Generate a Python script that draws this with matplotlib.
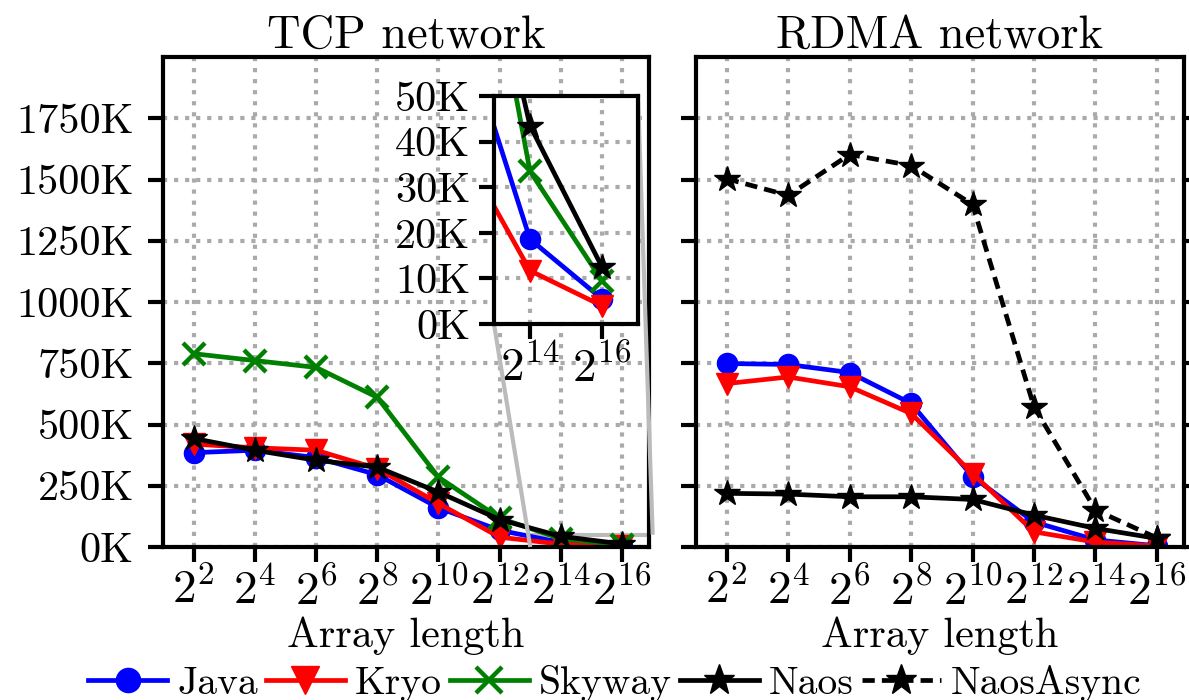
import matplotlib
matplotlib.use('Agg')
import matplotlib.pyplot as plt
from matplotlib.ticker import FuncFormatter, FixedLocator, NullLocator
from mpl_toolkits.axes_grid1.inset_locator import mark_inset

plt.rcParams['font.family'] = 'cmr10'
plt.rcParams['mathtext.fontset'] = 'cm'
plt.rcParams['axes.unicode_minus'] = False
plt.rcParams['axes.formatter.use_mathtext'] = True

# ---------------- data (throughput in K ops/s) ----------------
array_lengths = [4, 16, 64, 256, 1024, 4096, 16384, 65536]
xtick_labels = [r'$2^{2}$', r'$2^{4}$', r'$2^{6}$', r'$2^{8}$',
                r'$2^{10}$', r'$2^{12}$', r'$2^{14}$', r'$2^{16}$']
inset_ticks = [16384, 65536]
inset_tick_labels = [r'$2^{14}$', r'$2^{16}$']
y_ticks = [0, 250, 500, 750, 1000, 1250, 1500, 1750]
inset_y_ticks = [0, 10, 20, 30, 40, 50]

tcp_java = [385, 395, 365, 295, 160, 68, 18.6, 5.5]
tcp_kryo = [420, 405, 395, 320, 178, 40, 11.7, 4.0]
tcp_skyway = [789, 761, 733, 611, 285, 118, 33.5, 9.5]
tcp_naos = [443, 395, 354, 326, 224, 112, 43.5, 12.5]

rdma_java = [749, 745, 712, 586, 287, 102, 29, 5]
rdma_kryo = [667, 694, 654, 545, 300, 62, 20, 4]
rdma_naos = [219, 216, 205, 205, 194, 130, 76, 35]
rdma_naosasync = [1503, 1435, 1602, 1557, 1398, 572, 151, 37]

series_labels = ['Java', 'Kryo', 'Skyway', 'Naos', 'NaosAsync']

# ---------------- styles ----------------
LW = 3.4
st_java = dict(color='#0000ff', marker='o', ms=14.5, lw=LW)
st_kryo = dict(color='#ff0000', marker='v', ms=16.5, lw=LW)
st_sky = dict(color='#008000', marker='x', ms=16, mew=3.2, lw=LW)
st_naos = dict(color='black', marker='*', ms=19, lw=LW)
st_async = dict(color='black', marker='*', ms=19, lw=LW, ls=(0, (2.6, 1.5)))

GRID = dict(color='#aaaaaa', ls=':', lw=3.0)

fig = plt.figure(figsize=(11.89, 7.0), dpi=100)
ax1 = fig.add_axes([163/1189, 153/700, 486/1189, 490/700])
ax2 = fig.add_axes([696/1189, 153/700, 488/1189, 490/700], sharey=ax1)


def yfmt(v, pos):
    return f'{v:.0f}K'


def style_axes(ax):
    ax.set_xscale('log', base=2)
    ax.set_xlim(2 ** 1.0, 2 ** 16.88)
    ax.set_ylim(0, 2000)
    ax.xaxis.set_major_locator(FixedLocator(array_lengths))
    ax.xaxis.set_minor_locator(NullLocator())
    ax.set_xticklabels(xtick_labels)
    ax.yaxis.set_major_locator(FixedLocator(y_ticks))
    ax.yaxis.set_major_formatter(FuncFormatter(yfmt))
    ax.grid(True, **GRID)
    ax.set_axisbelow(True)
    for s in ax.spines.values():
        s.set_linewidth(3)
    ax.tick_params(axis='both', which='major', direction='out', length=11, width=3)
    ax.tick_params(axis='x', labelsize=34, pad=4)
    ax.tick_params(axis='y', labelsize=30.5, pad=10)
    ax.set_xlabel('Array length', fontsize=30.5, labelpad=2)


style_axes(ax1)
style_axes(ax2)
ax2.tick_params(axis='y', left=True, right=True, labelleft=False)

# TCP panel
ax1.plot(array_lengths, tcp_java, label=series_labels[0], **st_java)
ax1.plot(array_lengths, tcp_kryo, label=series_labels[1], **st_kryo)
ax1.plot(array_lengths, tcp_skyway, label=series_labels[2], **st_sky)
ax1.plot(array_lengths, tcp_naos, label=series_labels[3], **st_naos)
ax1.set_title('TCP network', fontsize=33.5, pad=7)

# RDMA panel
ax2.plot(array_lengths, rdma_java, **st_java)
ax2.plot(array_lengths, rdma_kryo, **st_kryo)
ax2.plot(array_lengths, rdma_naos, **st_naos)
ax2.plot(array_lengths, rdma_naosasync, label=series_labels[4], **st_async)
ax2.set_title('RDMA network', fontsize=33.5, pad=7)

# inset
axins = fig.add_axes([494/1189, 376/700, 144/1189, 228/700])
axins.plot(array_lengths, tcp_java, **st_java)
axins.plot(array_lengths, tcp_kryo, **st_kryo)
axins.plot(array_lengths, tcp_skyway, **st_sky)
axins.plot(array_lengths, tcp_naos, **st_naos)
axins.set_xscale('log', base=2)
axins.set_xlim(2 ** 13, 2 ** 17)
axins.set_ylim(0, 50)
axins.xaxis.set_major_locator(FixedLocator(inset_ticks))
axins.xaxis.set_minor_locator(NullLocator())
axins.set_xticklabels(inset_tick_labels)
axins.yaxis.set_major_locator(FixedLocator(inset_y_ticks))
axins.yaxis.set_major_formatter(FuncFormatter(yfmt))
axins.grid(True, **GRID)
axins.set_axisbelow(True)
for s in axins.spines.values():
    s.set_linewidth(3)
axins.tick_params(axis='both', direction='out', length=11, width=3)
axins.tick_params(axis='x', labelsize=34, pad=4)
axins.tick_params(axis='y', labelsize=30.5, pad=6)
axins.set_facecolor('white')
mark_inset(ax1, axins, loc1=1, loc2=3, fc='none', ec='#bbbbbb', lw=3)

# legend
h1, l1 = ax1.get_legend_handles_labels()
h2, l2 = ax2.get_legend_handles_labels()
fig.legend(h1 + h2, l1 + l2, loc='center', bbox_to_anchor=(0.517, 1 - 683/700),
           ncol=5, frameon=False, fontsize=28.5, handlelength=2.0,
           handletextpad=0.25, columnspacing=0.2, borderpad=0.1,
           markerscale=1.2)

fig.savefig('out.png', dpi=100)
